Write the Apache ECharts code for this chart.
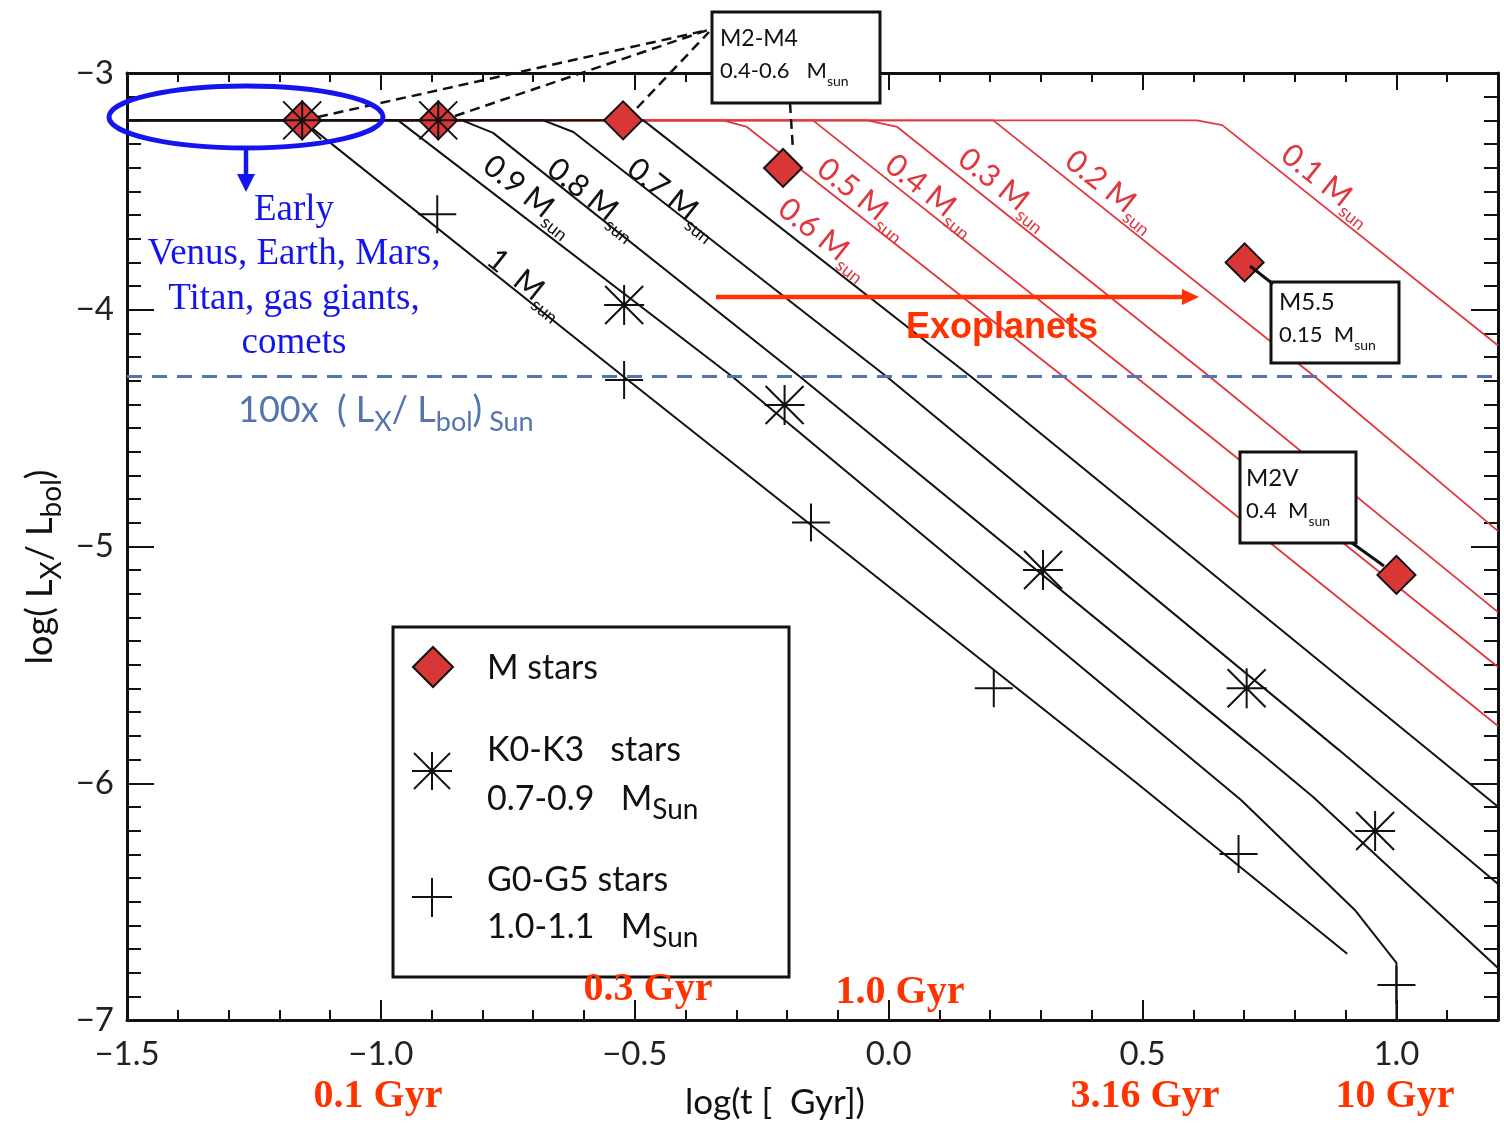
<!DOCTYPE html>
<html>
<head>
<meta charset="utf-8">
<title>Lx/Lbol evolution</title>
<script src="https://cdn.jsdelivr.net/npm/echarts@6.0.0/dist/echarts.min.js"></script>
<style>
  html, body { margin: 0; padding: 0; background: #ffffff; }
  #chart { width: 1504px; height: 1134px; }
</style>
</head>
<body>
<div id="chart"></div>
<script>
// axes: x = log(t [Gyr]), y = log(Lx/Lbol)
const xRange = [-1.5, 1.2];
const yRange = [-7, -3];

// activity tracks, one per stellar mass, [log t, log Lx/Lbol]
const track10 = [[-1.5, -3.2], [-1.155, -3.2], [-0.521, -4.284], [0.481, -5.986], [0.903, -6.72]];
const track09 = [[-1.5, -3.2], [-0.966, -3.2], [-0.307, -4.284], [0.694, -6.071], [0.918, -6.535], [1.0, -6.759], [1.0, -7.0]];
const track08 = [[-1.5, -3.2], [-0.84, -3.2], [-0.779, -3.253], [-0.174, -4.284], [0.725, -5.86], [0.836, -6.058], [1.2, -6.78]];
const track07 = [[-1.5, -3.2], [-0.68, -3.2], [-0.621, -3.249], [-0.003, -4.284], [0.887, -5.86], [1.2, -6.426]];
const track06 = [[-1.5, -3.2], [-0.483, -3.2], [0.163, -4.284], [1.2, -6.099]];
const track05 = [[-1.5, -3.2], [-0.326, -3.2], [-0.279, -3.228], [0.345, -4.284], [1.2, -5.758]];
const track04 = [[-1.5, -3.2], [-0.149, -3.2], [0.487, -4.284], [1.2, -5.509]];
const track03 = [[-1.5, -3.2], [-0.042, -3.2], [0.017, -3.228], [0.633, -4.284], [1.2, -5.277]];
const track02 = [[-1.5, -3.2], [0.206, -3.2], [0.84, -4.284], [1.2, -4.935]];
const track01 = [[-1.5, -3.2], [0.607, -3.2], [0.657, -3.22], [1.2, -4.151]];

const blackTracks = [track10, track09, track08, track07, track06];
const redTracks = [track05, track04, track03, track02, track01];
const trackMasses = ['1', '0.9', '0.8', '0.7', '0.6', '0.5', '0.4', '0.3', '0.2', '0.1'];

// observed stars
const mStars = [[-1.155, -3.2], [-0.887, -3.2], [-0.523, -3.2], [-0.208, -3.401], [0.701, -3.8], [1.0, -5.12]];
const kStars = [[-1.155, -3.2], [-0.887, -3.2], [-0.521, -3.98], [-0.205, -4.402], [0.304, -5.099], [0.705, -5.599], [0.958, -6.202]];
const gStars = [[-0.889, -3.597], [-0.521, -4.297], [-0.153, -4.899], [0.207, -5.599], [0.689, -6.299], [1.0, -6.852]];

// 100x (Lx/Lbol) of the Sun
const solarRef = -4.284;

const ageLabels = ['0.1 Gyr', '0.3 Gyr', '1.0 Gyr', '3.16 Gyr', '10 Gyr'];

const SANS = 'Lato, "Noto Sans", sans-serif';
const SERIF = '"Liberation Serif", "DejaVu Serif", serif';
const INK = '#111111';
const TRACK_RED = '#e0383e';
const ORANGE = '#ff3300';
const BLUE = '#1414ee';
const REF_BLUE = '#5574ae';

const chart = echarts.init(document.getElementById('chart'));

const gridBox = { left: 127, right: 6, top: 73, bottom: 114 };

function minus(v, digits) {
  const s = Math.abs(v).toFixed(digits);
  return v < -1e-9 ? '\u2212' + s : s;
}

function frameAxis(dim, pos, gridIndex, interval, tickLen, showLine, labels) {
  const ax = {
    type: 'value',
    gridIndex: gridIndex,
    position: pos,
    min: dim === 'x' ? xRange[0] : yRange[0],
    max: dim === 'x' ? xRange[1] : yRange[1],
    interval: interval,
    splitLine: { show: false },
    axisLine: { show: showLine, onZero: false, lineStyle: { color: INK, width: 3 } },
    axisTick: { show: true, inside: true, length: tickLen, lineStyle: { color: INK, width: 2 } },
    axisLabel: { show: false }
  };
  if (labels) {
    ax.axisLabel = {
      show: true,
      color: '#222',
      fontFamily: SANS,
      fontSize: dim === 'x' ? 33 : 33,
      margin: dim === 'x' ? 18 : 13,
      formatter: dim === 'x'
        ? (v) => (Math.abs(v * 2 - Math.round(v * 2)) < 1e-6 ? minus(v, 1) : '')
        : (v) => (Math.abs(v - Math.round(v)) < 1e-6 ? minus(v, 0) : '')
    };
  }
  return ax;
}

function trackSeries(data, color, width) {
  return {
    type: 'line',
    data: data,
    showSymbol: false,
    silent: true,
    animation: false,
    lineStyle: { color: color, width: width },
    z: 2
  };
}

const asteriskPath = 'path://M20,0L20,40M0,20L40,20M1,1L39,39M1,39L39,1';
const plusPath = 'path://M20,0L20,40M0,20L40,20';

// ---------- annotations ----------
const g = [];
function txt(x, y, text, style, extra) {
  g.push(Object.assign({ type: 'text', x: x, y: y, z: 100, silent: true, style: Object.assign({ text: text }, style) }, extra || {}));
}
function seg(x1, y1, x2, y2, stroke, lineWidth, dash) {
  g.push({ type: 'line', z: 99, silent: true, shape: { x1: x1, y1: y1, x2: x2, y2: y2 }, style: { stroke: stroke, lineWidth: lineWidth, lineDash: dash || null } });
}
function box(x, y, w, h) {
  g.push({ type: 'rect', z: 98, silent: true, shape: { x: x, y: y, width: w, height: h }, style: { fill: '#fff', stroke: INK, lineWidth: 3 } });
}
// main text + lowered subscript
function subRich(size, subSize, drop, color) {
  return {
    a: { fontFamily: SANS, fontSize: size, verticalAlign: 'top', fill: color },
    s: { fontFamily: SANS, fontSize: subSize, verticalAlign: 'top', fill: color, padding: [(size - subSize) / 2 + drop, 0, 0, 0] }
  };
}
const richBox = subRich(22, 14, 10, INK);
const richLegend = subRich(34, 28, 11, INK);
const richAxisName = subRich(36, 28, 11, INK);
const richRef = subRich(36, 27, 12, REF_BLUE);

// mass labels along the tracks
const massLabelAt = [[525, 285], [528, 197], [592, 200], [672, 200], [823, 240], [862, 200], [930, 196], [1003, 190], [1110, 192], [1326, 186]];
trackMasses.forEach((m, i) => {
  const color = i < 4 ? INK : TRACK_RED;
  txt(massLabelAt[i][0], massLabelAt[i][1], '{a|' + m + (m === '1' ? '  M' : ' M') + '}{s|sun}', {
    align: 'center', verticalAlign: 'middle', rich: subRich(31, 18, 11, color)
  }, { rotation: -38.5 * Math.PI / 180 });
});

// M2-M4 box and dashed leaders
seg(318, 117, 708, 30, INK, 2.5, [10, 6]);
seg(455, 116, 708, 30, INK, 2.5, [10, 6]);
seg(637, 108, 709, 32, INK, 2.5, [10, 6]);
seg(790, 103, 793, 150, INK, 2.5, [10, 6]);
box(712, 12, 168, 91);
txt(720, 39, 'M2-M4', { fontFamily: SANS, fontSize: 23, fill: INK, verticalAlign: 'middle' });
txt(720, 74, '{a|0.4-0.6   M}{s|sun}', { verticalAlign: 'middle', rich: richBox });

// M5.5 box
seg(1250, 266, 1273, 284, INK, 3);
box(1271, 282, 128, 81);
txt(1279, 302, 'M5.5', { fontFamily: SANS, fontSize: 24, fill: INK, verticalAlign: 'middle' });
txt(1279, 338, '{a|0.15  M}{s|sun}', { verticalAlign: 'middle', rich: richBox });

// M2V box
seg(1352, 543, 1384, 566, INK, 3);
box(1240, 452, 116, 91);
txt(1246, 478, 'M2V', { fontFamily: SANS, fontSize: 24, fill: INK, verticalAlign: 'middle' });
txt(1246, 514, '{a|0.4  M}{s|sun}', { verticalAlign: 'middle', rich: richBox });

// reference level label
txt(238, 392, '{a|100x  ( L}{s|X}{a|/ L}{s|bol}{a|)}{s| Sun}', { verticalAlign: 'top', rich: richRef });

// early solar system annotation
g.push({ type: 'ellipse', z: 100, silent: true, shape: { cx: 246, cy: 117, rx: 137, ry: 31 }, style: { fill: null, stroke: BLUE, lineWidth: 5 } });
seg(246, 148, 246, 176, BLUE, 4.5);
g.push({ type: 'polygon', z: 100, silent: true, shape: { points: [[237, 174], [255, 174], [246, 192]] }, style: { fill: BLUE } });
txt(294, 188, 'Early\nVenus, Earth, Mars,\nTitan, gas giants,\ncomets', {
  fontFamily: SERIF, fontSize: 37, lineHeight: 44.5, fill: BLUE, align: 'center', verticalAlign: 'top'
});

// exoplanets arrow
seg(716, 297, 1184, 297, ORANGE, 4.5);
g.push({ type: 'polygon', z: 100, silent: true, shape: { points: [[1182, 289], [1199, 297], [1182, 305]] }, style: { fill: ORANGE } });
txt(1002, 328, 'Exoplanets', { fontFamily: '"Liberation Sans", Arial, sans-serif', fontWeight: 'bold', fontSize: 36, fill: ORANGE, align: 'center', verticalAlign: 'middle' });

// age labels
const ageLabelAt = [[378, 1097], [648, 990], [900, 993], [1145, 1097], [1395, 1097]];
ageLabels.forEach((s, i) => {
  txt(ageLabelAt[i][0], ageLabelAt[i][1], s, { fontFamily: SERIF, fontWeight: 'bold', fontSize: 40, fill: ORANGE, align: 'center', verticalAlign: 'middle' });
});

// axis titles
txt(775, 1103, 'log(t [  Gyr])', { fontFamily: SANS, fontSize: 35, fill: INK, align: 'center', verticalAlign: 'middle' });
txt(44, 567, '{a|log( L}{s|X}{a|/ L}{s|bol}{a|)}', { align: 'center', verticalAlign: 'middle', rich: richAxisName }, { rotation: Math.PI / 2 });

// legend
box(393, 627, 396, 350);
g.push({ type: 'polygon', z: 100, silent: true, shape: { points: [[413, 667], [433, 647], [453, 667], [433, 687]] }, style: { fill: '#d93636', stroke: INK, lineWidth: 2 } });
txt(487, 668, 'M stars', { fontFamily: SANS, fontSize: 34, fill: INK, verticalAlign: 'middle' });
seg(412, 771, 452, 771, INK, 2);
seg(432, 752, 432, 790, INK, 2);
seg(414, 753, 450, 789, INK, 2);
seg(414, 789, 450, 753, INK, 2);
txt(487, 750, 'K0-K3   stars', { fontFamily: SANS, fontSize: 34, fill: INK, verticalAlign: 'middle' });
txt(487, 803, '{a|0.7-0.9   M}{s|Sun}', { verticalAlign: 'middle', rich: richLegend });
seg(412, 897, 452, 897, INK, 2);
seg(432, 878, 432, 917, INK, 2);
txt(487, 880, 'G0-G5 stars', { fontFamily: SANS, fontSize: 34, fill: INK, verticalAlign: 'middle' });
txt(487, 931, '{a|1.0-1.1   M}{s|Sun}', { verticalAlign: 'middle', rich: richLegend });

const series = [];
redTracks.forEach((d) => series.push(trackSeries(d, TRACK_RED, 1.8)));
blackTracks.forEach((d) => series.push(trackSeries(d, INK, 2)));
series[0].markLine = {
  silent: true,
  symbol: 'none',
  animation: false,
  label: { show: false },
  lineStyle: { color: REF_BLUE, width: 3, type: [15, 10] },
  data: [{ yAxis: solarRef }]
};
series.push({
  name: 'M stars', type: 'scatter', data: mStars, symbol: 'diamond', symbolSize: 38, z: 5, silent: true, animation: false,
  itemStyle: { color: '#d93636', borderColor: INK, borderWidth: 2, opacity: 1 }
});
series.push({
  name: 'K0-K3 stars', type: 'scatter', data: kStars, symbol: asteriskPath, symbolSize: 40, symbolKeepAspect: true, z: 6, silent: true, animation: false,
  itemStyle: { color: 'none', borderColor: INK, borderWidth: 2, opacity: 1 }
});
series.push({
  name: 'G0-G5 stars', type: 'scatter', data: gStars, symbol: plusPath, symbolSize: 38, symbolKeepAspect: true, z: 6, silent: true, animation: false,
  itemStyle: { color: 'none', borderColor: INK, borderWidth: 2, opacity: 1 }
});

chart.setOption({
  animation: false,
  backgroundColor: '#ffffff',
  grid: [Object.assign({}, gridBox), Object.assign({}, gridBox)],
  xAxis: [
    frameAxis('x', 'bottom', 0, 0.5, 20, true, true),
    frameAxis('x', 'top', 0, 0.5, 17, true, false),
    frameAxis('x', 'bottom', 1, 0.1, 10, false, false),
    frameAxis('x', 'top', 1, 0.1, 9, false, false)
  ],
  yAxis: [
    frameAxis('y', 'left', 0, 1, 27, true, true),
    frameAxis('y', 'right', 0, 1, 27, true, false),
    frameAxis('y', 'left', 1, 0.1, 14, false, false),
    frameAxis('y', 'right', 1, 0.1, 14, false, false)
  ],
  series: series,
  graphic: { elements: g }
});
</script>
</body>
</html>
